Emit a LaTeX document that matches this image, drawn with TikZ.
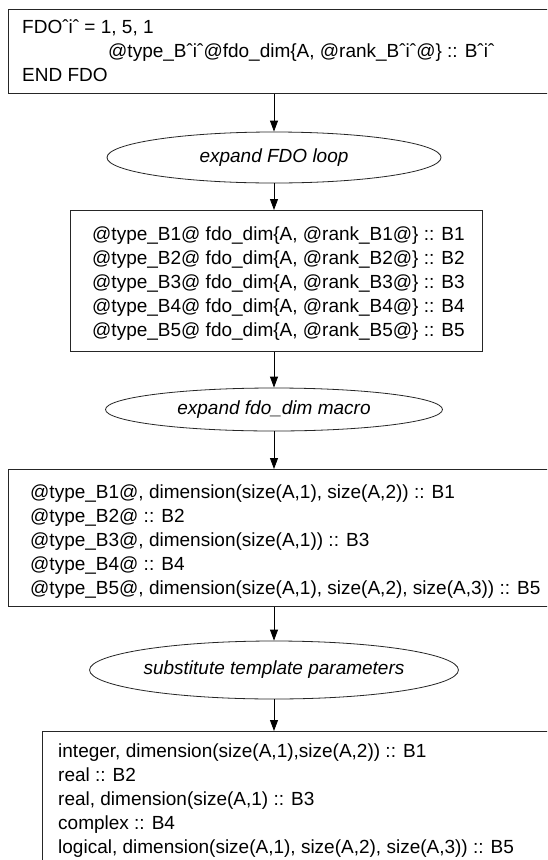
\documentclass[tikz,border=0pt]{standalone}
\usepackage{fontspec}
\setmainfont{Liberation Sans}
\usetikzlibrary{shapes.geometric,arrows.meta}
\begin{document}
\begin{tikzpicture}[x=1pt,y=-1pt,
  box/.style={draw=black!85, line width=0.8pt, rectangle, inner sep=0pt, anchor=north west},
  oval/.style={draw=black!85, line width=0.8pt, ellipse, inner sep=0pt, font=\fontsize{19}{24}\selectfont\itshape},
  txt/.style={anchor=base west, inner sep=0pt, font=\fontsize{19}{24}\selectfont},
  arr/.style={draw=black, line width=0.8pt, -{Triangle[length=11pt,width=8pt]}}]
\clip (0,0) rectangle (547,860);
\fill[white] (0,0) rectangle (547,860);
% boxes
\node[box, minimum width=560pt, minimum height=84pt] (b1) at (8,9) {};
\node[box, minimum width=412pt, minimum height=141pt] (b2) at (70,210) {};
\node[box, minimum width=560pt, minimum height=137pt] (b3) at (8,469) {};
\node[box, minimum width=540pt, minimum height=160pt] (b4) at (42,731) {};
% ellipses
\node[oval, minimum width=334pt, minimum height=51pt] (e1) at (274,157.5) {expand FDO loop};
\node[oval, minimum width=337pt, minimum height=43pt] (e2) at (274,409.5) {expand fdo\_dim macro};
\node[oval, minimum width=336pt, minimum height=58pt] (e3) at (274,670) {substitute template parameters};
% arrows
\draw[arr] (b1.south -| e1.north) -- (e1.north);
\draw[arr] (e1.south) -- (e1.south |- b2.north);
\draw[arr] (b2.south -| e2.north) -- (e2.north);
\draw[arr] (e2.south) -- (e2.south |- b3.north);
\draw[arr] (b3.south -| e3.north) -- (e3.north);
\draw[arr] (e3.south) -- (e3.south |- b4.north);
% box 1 text
\node[txt] (t11) at (22,33) {FDOˆiˆ = 1, 5, 1};
\node[txt] (t12) at (108,57) {@type\_Bˆiˆ@fdo\_dim\{A, @rank\_Bˆiˆ@\} :: Bˆiˆ};
\node[txt] (t13) at (22,81) {END FDO};
% box 2 text
\node[txt] (t21) at (92,240) {@type\_B1@ fdo\_dim\{A, @rank\_B1@\} :: B1};
\node[txt] (t22) at (92,264) {@type\_B2@ fdo\_dim\{A, @rank\_B2@\} :: B2};
\node[txt] (t23) at (92,288) {@type\_B3@ fdo\_dim\{A, @rank\_B3@\} :: B3};
\node[txt] (t24) at (92,312) {@type\_B4@ fdo\_dim\{A, @rank\_B4@\} :: B4};
\node[txt] (t25) at (92,336) {@type\_B5@ fdo\_dim\{A, @rank\_B5@\} :: B5};
% box 3 text
\node[txt] (t31) at (30,498) {@type\_B1@, dimension(size(A,1), size(A,2)) :: B1};
\node[txt] (t32) at (30,522) {@type\_B2@ :: B2};
\node[txt] (t33) at (30,546) {@type\_B3@, dimension(size(A,1)) :: B3};
\node[txt] (t34) at (30,570) {@type\_B4@ :: B4};
\node[txt] (t35) at (30,594) {@type\_B5@, dimension(size(A,1), size(A,2), size(A,3)) :: B5};
% box 4 text
\node[txt] (t41) at (58,757) {integer, dimension(size(A,1),size(A,2)) :: B1};
\node[txt] (t42) at (58,781) {real :: B2};
\node[txt] (t43) at (58,805) {real, dimension(size(A,1) :: B3};
\node[txt] (t44) at (58,829) {complex :: B4};
\node[txt] (t45) at (58,853) {logical, dimension(size(A,1), size(A,2), size(A,3)) :: B5};
\end{tikzpicture}
\end{document}
